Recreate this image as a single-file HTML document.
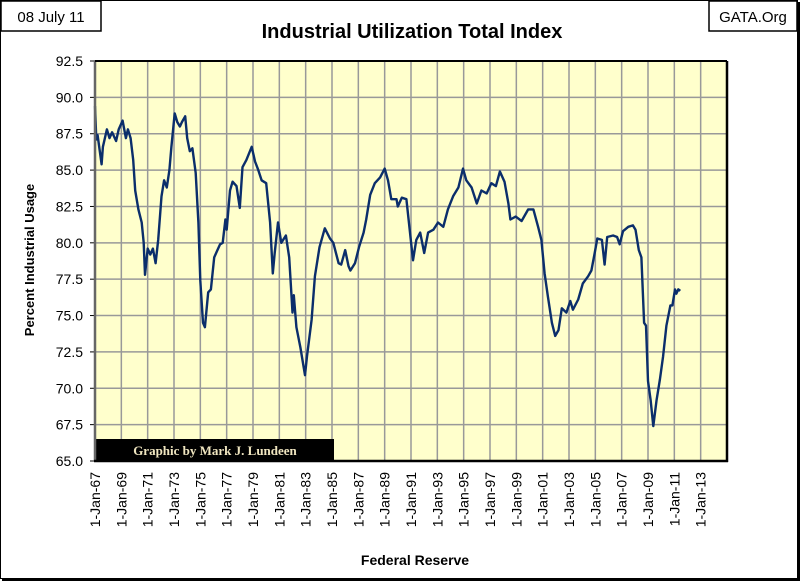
<!DOCTYPE html>
<html><head><meta charset="utf-8"><style>
body{margin:0;background:#fff;}
svg{display:block;font-family:"Liberation Sans",sans-serif;}
</style></head><body>
<svg width="800" height="581" viewBox="0 0 800 581">
<rect x="0.5" y="0.5" width="797" height="578" fill="#fff" stroke="#000" stroke-width="1"/>
<line x1="798.5" y1="2" x2="798.5" y2="581" stroke="#000" stroke-width="3"/>
<line x1="2" y1="579.5" x2="800" y2="579.5" stroke="#000" stroke-width="3"/>
<rect x="1" y="1" width="100" height="30" fill="#fff" stroke="#000" stroke-width="1.5"/>
<text x="51" y="22" font-size="15" text-anchor="middle" fill="#000">08 July 11</text>
<rect x="709" y="1" width="88" height="30" fill="#fff" stroke="#000" stroke-width="1.5"/>
<text x="753" y="22" font-size="15" text-anchor="middle" fill="#000">GATA.Org</text>
<text x="412" y="38" font-size="20" font-weight="bold" text-anchor="middle" fill="#000">Industrial Utilization Total Index</text>
<rect x="95" y="61" width="632" height="400" fill="#FFFFCC"/>
<g id="grid"></g>
<g id="ylabels"></g>
<g id="xlabels"></g>
<rect x="95" y="439" width="239" height="22" fill="#000"/>
<text x="215" y="455" font-size="13" font-weight="bold" font-family="Liberation Serif, serif" text-anchor="middle" fill="#F0E6C0">Graphic by Mark J. Lundeen</text>
<path id="line" fill="none" stroke="#0B2E6B" stroke-width="2.4" stroke-linejoin="round"/>
<line x1="95" y1="61" x2="95" y2="461" stroke="#666" stroke-width="2.5"/>
<line x1="95" y1="61" x2="727" y2="61" stroke="#000" stroke-width="2"/>
<line x1="727" y1="61" x2="727" y2="462" stroke="#000" stroke-width="2.5"/>
<line x1="94" y1="461" x2="728" y2="461" stroke="#000" stroke-width="2.5"/>
<text transform="translate(34,260) rotate(-90)" font-size="13" font-weight="bold" text-anchor="middle" fill="#000">Percent Industrial Usage</text>
<text x="415" y="565" font-size="14" font-weight="bold" text-anchor="middle" fill="#000">Federal Reserve</text>
</svg>
<script>
const yTicks=[65.0,67.5,70.0,72.5,75.0,77.5,80.0,82.5,85.0,87.5,90.0,92.5];
const xTickYears=[1967,1969,1971,1973,1975,1977,1979,1981,1983,1985,1987,1989,1991,1993,1995,1997,1999,2001,2003,2005,2007,2009,2011,2013];
const dates=[1967.0,1967.1,1967.2,1967.5,1967.6,1967.9,1968.1,1968.3,1968.6,1968.8,1969.1,1969.35,1969.5,1969.7,1969.9,1970.05,1970.3,1970.55,1970.7,1970.8,1971.0,1971.2,1971.4,1971.6,1971.8,1972.05,1972.25,1972.45,1972.65,1972.8,1973.05,1973.25,1973.45,1973.6,1973.85,1974.0,1974.2,1974.4,1974.65,1974.85,1975.0,1975.2,1975.35,1975.6,1975.8,1976.05,1976.25,1976.5,1976.7,1976.9,1977.0,1977.25,1977.45,1977.75,1978.0,1978.2,1978.5,1978.9,1979.15,1979.4,1979.65,1980.0,1980.3,1980.5,1980.65,1980.9,1981.15,1981.5,1981.75,1982.0,1982.1,1982.3,1982.6,1982.95,1983.1,1983.45,1983.7,1984.05,1984.45,1984.85,1985.1,1985.5,1985.7,1986.0,1986.25,1986.4,1986.75,1987.05,1987.4,1987.6,1987.9,1988.25,1988.65,1989.0,1989.25,1989.5,1989.9,1990.0,1990.3,1990.65,1990.9,1991.15,1991.4,1991.7,1992.0,1992.3,1992.7,1993.05,1993.45,1993.8,1994.2,1994.6,1994.95,1995.2,1995.6,1996.0,1996.35,1996.75,1997.1,1997.45,1997.75,1998.1,1998.4,1998.55,1998.95,1999.4,1999.9,2000.3,2000.65,2000.9,2001.15,2001.4,2001.7,2001.95,2002.2,2002.45,2002.8,2003.1,2003.3,2003.7,2004.05,2004.45,2004.7,2004.95,2005.15,2005.5,2005.7,2005.9,2006.35,2006.65,2006.85,2007.1,2007.5,2007.85,2008.05,2008.3,2008.5,2008.7,2008.85,2009.0,2009.2,2009.4,2009.65,2009.9,2010.15,2010.4,2010.7,2010.85,2011.05,2011.15,2011.3,2011.45];
const values=[89.4,87.1,87.4,85.4,86.6,87.8,87.2,87.6,87.0,87.8,88.4,87.2,87.8,87.2,85.7,83.6,82.3,81.4,80.0,77.8,79.6,79.2,79.6,78.6,80.2,83.2,84.3,83.8,85.0,86.6,88.9,88.3,88.0,88.3,88.7,87.2,86.3,86.5,84.8,81.4,77.4,74.5,74.2,76.6,76.8,79.0,79.4,79.9,80.0,81.6,80.9,83.6,84.2,83.9,82.4,85.2,85.7,86.6,85.6,85.0,84.3,84.1,81.4,77.9,79.3,81.4,80.0,80.5,79.0,75.2,76.4,74.2,72.8,70.9,72.2,74.7,77.7,79.7,81.0,80.3,80.0,78.6,78.5,79.5,78.4,78.1,78.6,79.7,80.7,81.6,83.3,84.1,84.5,85.1,84.3,83.0,83.0,82.5,83.1,83.0,80.9,78.8,80.2,80.7,79.3,80.7,80.9,81.4,81.1,82.3,83.2,83.8,85.1,84.3,83.8,82.7,83.6,83.4,84.1,83.9,84.9,84.2,82.7,81.6,81.8,81.5,82.3,82.3,81.1,80.2,77.9,76.3,74.5,73.6,74.0,75.5,75.2,76.0,75.4,76.1,77.2,77.7,78.1,79.3,80.3,80.2,78.5,80.4,80.5,80.4,79.9,80.8,81.1,81.2,80.9,79.5,79.0,74.5,74.3,70.5,69.2,67.4,69.2,70.6,72.2,74.3,75.7,75.7,76.8,76.5,76.8,76.7];
const X0=95,X1=727,Y0=461,Y1=61,YR0=65,YR1=92.5,XR0=1967,XR1=2015;
function xs(v){return X0+(v-XR0)/(XR1-XR0)*(X1-X0);}
function ys(v){return Y0-(v-YR0)/(YR1-YR0)*(Y0-Y1);}
const NS='http://www.w3.org/2000/svg';
const grid=document.getElementById('grid'),yl=document.getElementById('ylabels'),xl=document.getElementById('xlabels');
yTicks.forEach(t=>{
  const y=ys(t);
  const l=document.createElementNS(NS,'line');
  l.setAttribute('x1',X0);l.setAttribute('x2',X1);l.setAttribute('y1',y);l.setAttribute('y2',y);
  l.setAttribute('stroke','#999');l.setAttribute('stroke-width','1.5');
  
  
  grid.appendChild(l);
  const tk=document.createElementNS(NS,'line');
  tk.setAttribute('x1',X0-5);tk.setAttribute('x2',X0);tk.setAttribute('y1',y);tk.setAttribute('y2',y);
  tk.setAttribute('stroke','#000');
  grid.appendChild(tk);
  const tx=document.createElementNS(NS,'text');
  tx.setAttribute('x',83);tx.setAttribute('y',y+5);tx.setAttribute('text-anchor','end');tx.setAttribute('font-size','14');
  tx.textContent=t.toFixed(1);
  
  
  yl.appendChild(tx);
});
xTickYears.forEach(yr=>{
  const x=xs(yr);
  const l=document.createElementNS(NS,'line');
  l.setAttribute('x1',x);l.setAttribute('x2',x);l.setAttribute('y1',Y1);l.setAttribute('y2',Y0);
  l.setAttribute('stroke','#999');l.setAttribute('stroke-width','1.5');
  
  
  grid.appendChild(l);
  const tx=document.createElementNS(NS,'text');
  tx.setAttribute('transform','translate('+(x+5)+',472) rotate(-90)');
  tx.setAttribute('text-anchor','end');tx.setAttribute('font-size','14');
  tx.textContent='1-Jan-'+String(yr%100).padStart(2,'0');
  
  
  xl.appendChild(tx);
});
let d='';
dates.forEach((t,i)=>{d+=(i?'L':'M')+xs(t).toFixed(1)+','+ys(values[i]).toFixed(1);});
document.getElementById('line').setAttribute('d',d);
</script>
</body></html>
